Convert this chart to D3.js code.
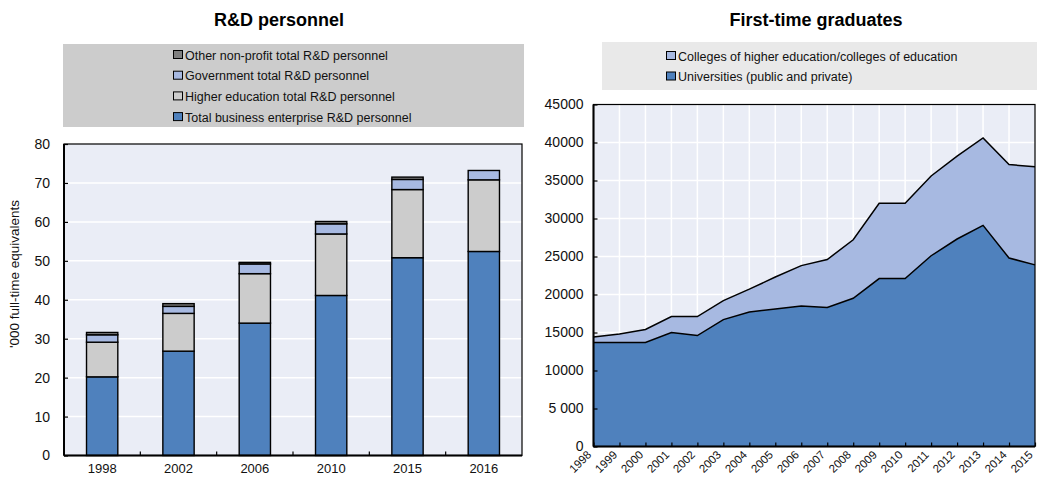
<!DOCTYPE html>
<html><head><meta charset="utf-8">
<script src="https://cdn.jsdelivr.net/npm/d3@7"></script>
<style>body{margin:0;background:#fff}svg{display:block;font-family:"Liberation Sans",Arial,sans-serif}</style>
</head><body><svg id="c" width="1037" height="477"></svg>
<script>
// ---- Left chart data: R&D personnel ('000 FTE)
const rdYears = ["1998","2002","2006","2010","2015","2016"];
const rdBusiness = [20.2, 26.8, 34.0, 41.1, 50.8, 52.4];
const rdHigherEd = [8.9, 9.7, 12.7, 15.8, 17.5, 18.4];
const rdGovernment = [1.9, 1.8, 2.5, 2.6, 2.6, 2.4];
const rdOtherNP = [0.6, 0.7, 0.4, 0.6, 0.6, 0.0];
const rdTicks = [0,10,20,30,40,50,60,70,80];
const rdLegend = ["Other non-profit total R&D personnel","Government total R&D personnel","Higher education total R&D personnel","Total business enterprise R&D personnel"];

// ---- Right chart data: First-time graduates
const gradYears = ["1998","1999","2000","2001","2002","2003","2004","2005","2006","2007","2008","2009","2010","2011","2012","2013","2014","2015"];
const gradUniversities = [13700,13700,13700,15000,14600,16700,17700,18100,18500,18300,19500,22100,22100,25100,27300,29100,24800,23900];
const gradTotal = [14400,14800,15400,17100,17100,19200,20700,22300,23800,24600,27200,32000,32000,35600,38200,40600,37100,36800];
const gradColleges = gradTotal.map((t,i)=>t-gradUniversities[i]);
const gradTicks = [0,5000,10000,15000,20000,25000,30000,35000,40000,45000];
const gradTickLabels = ["0","5 000","10000","15000","20000","25000","30000","35000","40000","45000"];
const gradLegend = ["Colleges of higher education/colleges of education","Universities (public and private)"];

const C = {blue:"#4f81bd", grey:"#cccccc", lblue:"#a7b9e1", dgrey:"#7f7f7f", bg:"#eaedf6"};
const svg = d3.select("#c");

// ================= LEFT =================
{
  const L=64,R=522,T=144,B=455.5;
  svg.append("text").attr("x",279).attr("y",26).attr("text-anchor","middle")
    .attr("font-size",18).attr("font-weight","bold").text("R&D personnel");
  svg.append("rect").attr("x",63).attr("y",44).attr("width",461).attr("height",83).attr("fill","#cccccc");
  const legCols=[C.dgrey,C.lblue,C.grey,C.blue];
  rdLegend.forEach((t,i)=>{
    const y=55+i*20.7;
    svg.append("rect").attr("x",173.5).attr("y",y-4.5).attr("width",9).attr("height",8)
      .attr("fill",legCols[i]).attr("stroke","#000").attr("stroke-width",1);
    svg.append("text").attr("x",185).attr("y",y+4.5).attr("font-size",12.5).attr("fill","#111").text(t);
  });
  const x=d3.scaleBand().domain(rdYears).range([L,R]).paddingInner(0.59).paddingOuter(0.295);
  const y=d3.scaleLinear().domain([0,80]).range([B,T]);
  svg.append("rect").attr("x",L).attr("y",T).attr("width",R-L).attr("height",B-T).attr("fill",C.bg);
  rdTicks.forEach(v=>{ if(v>0&&v<80) svg.append("line").attr("x1",L).attr("x2",R).attr("y1",y(v)).attr("y2",y(v)).attr("stroke","#fff").attr("stroke-width",1.5);});
  const series=[rdBusiness,rdHigherEd,rdGovernment,rdOtherNP];
  const cols=[C.blue,C.grey,C.lblue,C.dgrey];
  rdYears.forEach((yr,i)=>{
    let base=0;
    series.forEach((s,k)=>{
      const v=s[i]; if(v<=0) return;
      svg.append("rect").attr("x",x(yr)).attr("width",x.bandwidth())
        .attr("y",y(base+v)).attr("height",y(base)-y(base+v))
        .attr("fill",cols[k]).attr("stroke","#000").attr("stroke-width",1.4);
      base+=v;
    });
  });
  svg.append("rect").attr("x",L).attr("y",T).attr("width",R-L).attr("height",B-T).attr("fill","none").attr("stroke","#000").attr("stroke-width",1.2);
  svg.append("line").attr("x1",L).attr("x2",L).attr("y1",T).attr("y2",B).attr("stroke","#000").attr("stroke-width",2);
  svg.append("line").attr("x1",L).attr("x2",R).attr("y1",B).attr("y2",B).attr("stroke","#000").attr("stroke-width",2);
  const ya=svg.append("g").attr("transform",`translate(${L},0)`).call(d3.axisLeft(y).tickValues(rdTicks).tickSize(-4).tickPadding(14).tickFormat(d3.format("d")));
  ya.select(".domain").remove();
  ya.selectAll("line").attr("stroke","#000").attr("stroke-width",1.2);
  ya.selectAll("text").attr("font-size",14).attr("font-family","Liberation Sans, Arial").attr("fill","#111");
  const xa=svg.append("g").attr("transform",`translate(0,${B})`).call(d3.axisBottom(x).tickSize(0).tickPadding(8));
  xa.select(".domain").remove();
  xa.selectAll("text").attr("font-size",13).attr("font-family","Liberation Sans, Arial").attr("fill","#111");
  for(let i=1;i<rdYears.length;i++){
    const xb=L+i*x.step();
    svg.append("line").attr("x1",xb).attr("x2",xb).attr("y1",B).attr("y2",B-4).attr("stroke","#000").attr("stroke-width",1.2);
  }
  svg.append("text").attr("transform",`translate(19,274) rotate(-90)`).attr("text-anchor","middle")
    .attr("font-size",13.5).attr("fill","#111").text("'000 full-time equivalents");
}

// ================= RIGHT =================
{
  const L=593.5,R=1035,T=104.5,B=446.5;
  svg.append("text").attr("x",816).attr("y",26).attr("text-anchor","middle")
    .attr("font-size",18).attr("font-weight","bold").text("First-time graduates");
  svg.append("rect").attr("x",602).attr("y",42).attr("width",435).attr("height",48).attr("fill","#e9e9e9");
  const legCols=[C.lblue,C.blue];
  gradLegend.forEach((t,i)=>{
    const y=56+i*20.5;
    svg.append("rect").attr("x",666.5).attr("y",y-4.5).attr("width",9).attr("height",8)
      .attr("fill",legCols[i]).attr("stroke","#000").attr("stroke-width",1);
    svg.append("text").attr("x",678).attr("y",y+4.5).attr("font-size",12.5).attr("fill","#111").text(t);
  });
  const x=d3.scalePoint().domain(gradYears).range([L,R]);
  const y=d3.scaleLinear().domain([0,45000]).range([B,T]);
  svg.append("rect").attr("x",L).attr("y",T).attr("width",R-L).attr("height",B-T).attr("fill",C.bg);
  gradTicks.forEach(v=>{ if(v>0&&v<45000) svg.append("line").attr("x1",L).attr("x2",R).attr("y1",y(v)).attr("y2",y(v)).attr("stroke","#fff").attr("stroke-width",1.5);});
  gradYears.forEach((g,i)=>{ if(i>0&&i<gradYears.length-1) svg.append("line").attr("x1",x(g)).attr("x2",x(g)).attr("y1",T).attr("y2",B).attr("stroke","#fff").attr("stroke-width",1.5);});
  const areaTot=d3.area().x((d,i)=>x(gradYears[i])).y0(B).y1((d,i)=>y(gradUniversities[i]+gradColleges[i]));
  const areaUni=d3.area().x((d,i)=>x(gradYears[i])).y0(B).y1((d,i)=>y(gradUniversities[i]));
  svg.append("path").datum(gradYears).attr("d",areaTot).attr("fill",C.lblue);
  svg.append("path").datum(gradYears).attr("d",areaUni).attr("fill",C.blue);
  const lineTot=d3.line().x((d,i)=>x(gradYears[i])).y((d,i)=>y(gradUniversities[i]+gradColleges[i]));
  const lineUni=d3.line().x((d,i)=>x(gradYears[i])).y((d,i)=>y(gradUniversities[i]));
  svg.append("path").datum(gradYears).attr("d",lineTot).attr("fill","none").attr("stroke","#000").attr("stroke-width",1.5);
  svg.append("path").datum(gradYears).attr("d",lineUni).attr("fill","none").attr("stroke","#000").attr("stroke-width",1.5);
  svg.append("rect").attr("x",L).attr("y",T).attr("width",R-L).attr("height",B-T).attr("fill","none").attr("stroke","#000").attr("stroke-width",1.2);
  svg.append("line").attr("x1",L).attr("x2",L).attr("y1",T).attr("y2",B).attr("stroke","#000").attr("stroke-width",2);
  svg.append("line").attr("x1",L).attr("x2",R).attr("y1",B).attr("y2",B).attr("stroke","#000").attr("stroke-width",2);
  const ya=svg.append("g").attr("transform",`translate(${L},0)`).call(d3.axisLeft(y).tickValues(gradTicks).tickSize(-4).tickPadding(10).tickFormat((d,i)=>gradTickLabels[i]));
  ya.select(".domain").remove();
  ya.selectAll("line").attr("stroke","#000").attr("stroke-width",1.2);
  ya.selectAll("text").attr("font-size",14).attr("font-family","Liberation Sans, Arial").attr("fill","#111");
  const xa=svg.append("g").attr("transform",`translate(0,${B})`).call(d3.axisBottom(x).tickSize(-4).tickPadding(0));
  xa.select(".domain").remove();
  xa.selectAll("line").attr("stroke","#000").attr("stroke-width",1.2);
  xa.selectAll("text").attr("font-size",11.5).attr("font-family","Liberation Sans, Arial").attr("fill","#111")
    .attr("text-anchor","end").attr("dy","0").attr("transform","translate(-2,9) rotate(-45)");
}
</script></body></html>
